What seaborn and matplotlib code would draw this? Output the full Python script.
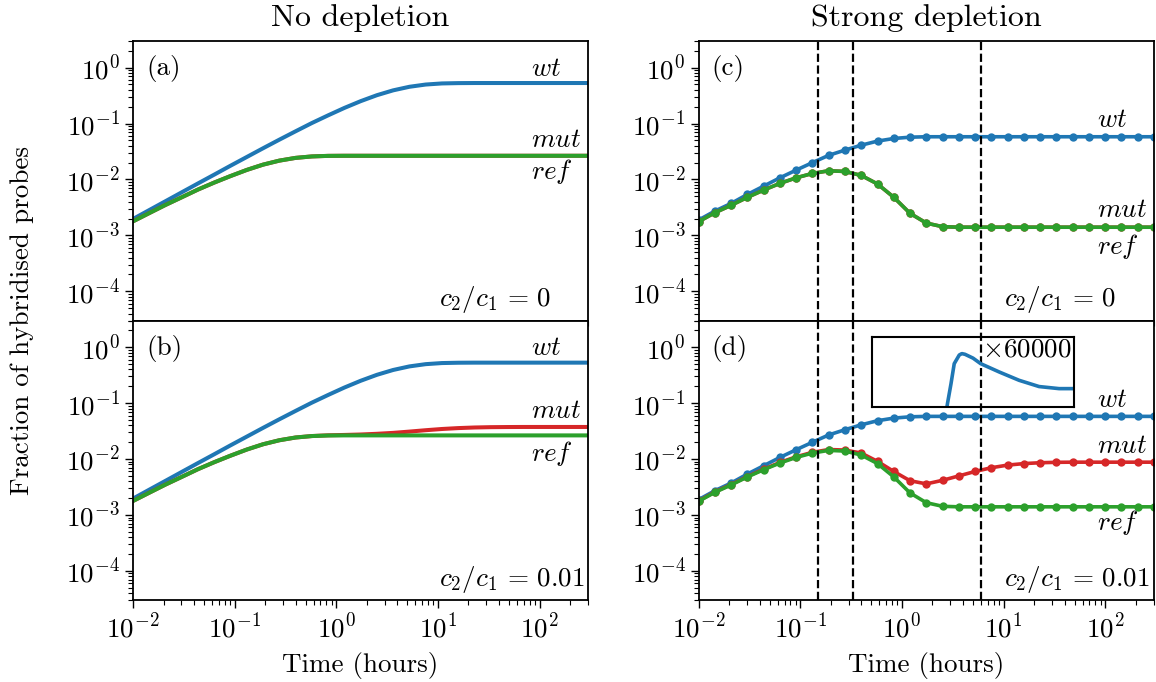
import numpy as np
import matplotlib
matplotlib.use("Agg")
import matplotlib.pyplot as plt
import seaborn as sns
from matplotlib.ticker import LogLocator, NullFormatter

sns.set_style("ticks")
plt.rcParams.update({
    "font.family": "serif",
    "font.serif": ["cmr10", "DejaVu Serif"],
    "mathtext.fontset": "cm",
    "axes.formatter.use_mathtext": True,
    "axes.edgecolor": "black",
    "axes.linewidth": 1.3,
    "text.color": "black",
    "axes.labelcolor": "black",
    "xtick.color": "black",
    "ytick.color": "black",
    "xtick.direction": "out",
    "ytick.direction": "out",
    "xtick.major.size": 6,
    "ytick.major.size": 6,
    "xtick.minor.size": 3.5,
    "ytick.minor.size": 3.5,
    "xtick.major.width": 1.0,
    "ytick.major.width": 1.0,
    "xtick.minor.width": 0.8,
    "ytick.minor.width": 0.8,
})

# time grid (hours), log-spaced
time_h = [0.01, 0.01445, 0.02089, 0.0302, 0.04365, 0.0631, 0.0912, 0.1318, 0.1905,
          0.2754, 0.3981, 0.5754, 0.8318, 1.202, 1.738, 2.512, 3.631, 5.248, 7.586,
          10.96, 15.85, 22.91, 33.11, 47.86, 69.18, 100.0, 144.5, 208.9, 302.0]

# no depletion
nodep_wt = [1.96e-3, 2.83e-3, 4.08e-3, 5.89e-3, 8.49e-3, 0.0122, 0.0176, 0.0252, 0.0361,
            0.0514, 0.0726, 0.102, 0.140, 0.190, 0.251, 0.321, 0.392, 0.454, 0.498,
            0.521, 0.528, 0.530, 0.530, 0.530, 0.530, 0.530, 0.530, 0.530, 0.530]
nodep_ref = [1.78e-3, 2.5e-3, 3.5e-3, 4.8e-3, 6.6e-3, 8.8e-3, 0.0115, 0.0148, 0.0184,
             0.0217, 0.0243, 0.0258, 0.0264, 0.0265, 0.0265, 0.0265, 0.0265, 0.0265, 0.0265,
             0.0265, 0.0265, 0.0265, 0.0265, 0.0265, 0.0265, 0.0265, 0.0265, 0.0265, 0.0265]
nodep_mut_c0 = nodep_ref
nodep_mut_c001 = [1.78e-3, 2.5e-3, 3.5e-3, 4.8e-3, 6.6e-3, 8.8e-3, 0.0115, 0.0148, 0.0184,
                  0.0217, 0.0243, 0.0258, 0.0266, 0.0270, 0.0275, 0.0283, 0.0294, 0.0310, 0.0328,
                  0.0345, 0.0358, 0.0367, 0.0372, 0.0374, 0.0375, 0.0375, 0.0375, 0.0375, 0.0375]

# strong depletion
strong_wt = [1.88e-3, 2.72e-3, 3.73e-3, 5.4e-3, 7.6e-3, 0.0107, 0.0147, 0.020, 0.027,
             0.0335, 0.041, 0.0485, 0.054, 0.057, 0.058, 0.058, 0.058, 0.058, 0.058,
             0.058, 0.058, 0.058, 0.058, 0.058, 0.058, 0.058, 0.058, 0.058, 0.058]
strong_ref = [1.76e-3, 2.54e-3, 3.45e-3, 4.79e-3, 6.46e-3, 8.5e-3, 0.0107, 0.0128, 0.0143,
              0.0139, 0.0118, 8.3e-3, 4.8e-3, 2.48e-3, 1.66e-3, 1.43e-3, 1.40e-3, 1.40e-3, 1.40e-3,
              1.40e-3, 1.40e-3, 1.40e-3, 1.40e-3, 1.40e-3, 1.40e-3, 1.40e-3, 1.40e-3, 1.40e-3, 1.40e-3]
strong_mut_c0 = strong_ref
strong_mut_c001 = [1.78e-3, 2.58e-3, 3.5e-3, 4.87e-3, 6.6e-3, 8.7e-3, 0.0110, 0.0132, 0.0148,
                   0.0145, 0.0128, 9.1e-3, 6.0e-3, 4.1e-3, 3.6e-3, 4.17e-3, 5.0e-3, 6.0e-3, 7.0e-3,
                   7.8e-3, 8.3e-3, 8.6e-3, 8.75e-3, 8.8e-3, 8.8e-3, 8.8e-3, 8.8e-3, 8.8e-3, 8.8e-3]

# marked times (hours) in strong depletion panels
event_times = [0.15, 0.333, 6.0]

# inset of panel (d), signal scaled x60000 (arbitrary units)
inset_t = [0.41, 0.472, 0.563, 0.664, 0.859, 0.98, 1.15, 1.73, 2.56, 6.6, 18.2, 50.4, 140.0, 300.0]
inset_y = [-0.2, 0.05, 0.33, 0.62, 0.745, 0.765, 0.755, 0.70, 0.62, 0.50, 0.38, 0.29, 0.26, 0.26]

C_WT, C_MUT, C_REF = "#1f77b4", "#d62728", "#2ca02c"
FS = 19.5

fig, axes = plt.subplots(2, 2, figsize=(11.56, 6.82), dpi=100, sharex=True)
fig.subplots_adjust(left=0.115, right=0.998, top=0.940, bottom=0.120, wspace=0.243, hspace=0)

panels = [
    (axes[0, 0], nodep_wt, nodep_mut_c0, nodep_ref, False, "(a)", "0",
     [(0.90, r"$wt$"), (0.645, r"$mut$"), (0.532, r"$ref$")]),
    (axes[1, 0], nodep_wt, nodep_mut_c001, nodep_ref, False, "(b)", "0.01",
     [(0.90, r"$wt$"), (0.675, r"$mut$"), (0.526, r"$ref$")]),
    (axes[0, 1], strong_wt, strong_mut_c0, strong_ref, True, "(c)", "0",
     [(0.717, r"$wt$"), (0.395, r"$mut$"), (0.264, r"$ref$")]),
    (axes[1, 1], strong_wt, strong_mut_c001, strong_ref, True, "(d)", "0.01",
     [(0.717, r"$wt$"), (0.55, r"$mut$"), (0.276, r"$ref$")]),
]

for ax, wt, mut, ref, dots, tag, ratio, labels in panels:
    kw = dict(lw=2.9, estimator=None, sort=False, ax=ax)
    if dots:
        kw.update(lw=2.6, marker="o", markersize=6, markeredgewidth=0)
    sns.lineplot(x=time_h, y=wt, color=C_WT, **kw)
    sns.lineplot(x=time_h, y=mut, color=C_MUT, **kw)
    sns.lineplot(x=time_h, y=ref, color=C_REF, **kw)
    if dots:
        for t in event_times:
            ax.axvline(t, color="black", ls="--", lw=1.6, zorder=5)
    ax.set_xscale("log")
    ax.set_yscale("log")
    ax.set_xlim(0.01, 300)
    ax.set_ylim(3e-5, 3)
    ax.set_yticks([1e-4, 1e-3, 1e-2, 1e-1, 1])
    ax.set_xticks([1e-2, 1e-1, 1, 10, 100])
    ax.yaxis.set_minor_locator(LogLocator(base=10, subs=np.arange(2, 10), numticks=20))
    ax.xaxis.set_minor_locator(LogLocator(base=10, subs=np.arange(2, 10), numticks=20))
    ax.yaxis.set_minor_formatter(NullFormatter())
    ax.xaxis.set_minor_formatter(NullFormatter())
    ax.tick_params(labelsize=FS)
    ax.set_xlabel("")
    ax.set_ylabel("")
    ax.text(0.029, 0.90, tag, transform=ax.transAxes, fontsize=FS, va="center", ha="left")
    ax.text(0.672, 0.074, r"$c_2/c_1\,=\,%s$" % ratio, transform=ax.transAxes,
            fontsize=FS, va="center", ha="left")
    for y, s in labels:
        ax.text(0.875, y, s, transform=ax.transAxes, fontsize=FS, va="center", ha="left")

axes[0, 0].set_title("No depletion", fontsize=23, pad=11)
axes[0, 1].set_title("Strong depletion", fontsize=23, pad=11)
axes[1, 0].set_xlabel("Time (hours)", fontsize=FS, labelpad=6)
axes[1, 1].set_xlabel("Time (hours)", fontsize=FS, labelpad=6)
fig.text(0.019, 0.53, "Fraction of hybridised probes", rotation=90, va="center",
         ha="center", fontsize=FS)

# inset in panel (d)
ins = axes[1, 1].inset_axes([0.381, 0.692, 0.444, 0.248])
sns.lineplot(x=inset_t, y=inset_y, color=C_WT, lw=2.6, estimator=None, sort=False, ax=ins)
ins.set_xscale("log")
ins.set_xlim(0.01, 300)
ins.set_ylim(0, 1)
ins.set_xticks([])
ins.set_yticks([])
ins.minorticks_off()
ins.set_xlabel("")
ins.set_ylabel("")
ins.set_facecolor("none")
for sp in ins.spines.values():
    sp.set_linewidth(1.5)
ins.text(0.99, 0.82, r"$\times$60000", transform=ins.transAxes, fontsize=FS,
         ha="right", va="center")

fig.savefig("out.png", dpi=100)
